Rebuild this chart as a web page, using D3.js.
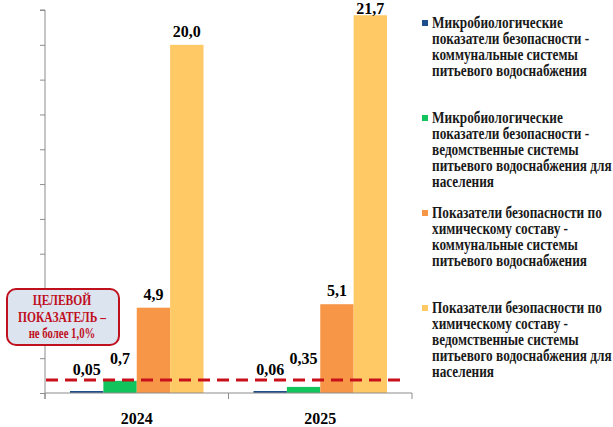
<!DOCTYPE html>
<html><head><meta charset="utf-8">
<script src="https://cdn.jsdelivr.net/npm/d3@7"></script>
<style>
html,body{margin:0;padding:0;background:#fff;}
svg{display:block;}
svg text{font-family:"Liberation Serif","Times New Roman","DejaVu Serif",serif;font-weight:bold;}
</style></head>
<body>
<svg id="chart" width="613" height="427"></svg>
<script>
const years = ["2024", "2025"];
const seriesKeys = ["microCommunal", "microDepartmental", "chemCommunal", "chemDepartmental"];
const values2024 = [0.05, 0.7, 4.9, 20.0];
const values2025 = [0.06, 0.35, 5.1, 21.7];
const labels2024 = ["0,05", "0,7", "4,9", "20,0"];
const labels2025 = ["0,06", "0,35", "5,1", "21,7"];
const seriesColors = ["#1F4E8C", "#12C45C", "#F79646", "#FFC966"];
const seriesNameLines = [
  ["Микробиологические", "показатели безопасности -", "коммунальные системы", "питьевого водоснабжения"],
  ["Микробиологические", "показатели безопасности -", "ведомственные системы", "питьевого водоснабжения для", "населения"],
  ["Показатели безопасности по", "химическому составу -", "коммунальные системы", "питьевого водоснабжения"],
  ["Показатели безопасности по", "химическому составу -", "ведомственные системы", "питьевого водоснабжения для", "населения"]
];
const yTicks = [0, 2, 4, 6, 8, 10, 12, 14, 16, 18, 20, 22];
const targetLineLevel = 0.75;
const calloutLines = ["ЦЕЛЕВОЙ", "ПОКАЗАТЕЛЬ –", "не более 1,0%"];

const valuesByYear = [values2024, values2025];
const labelsByYear = [labels2024, labels2025];

const svg = d3.select("#chart");

const x0 = d3.scaleBand().domain(years).range([45, 412]).paddingInner(0).paddingOuter(0);
const x1 = d3.scaleBand().domain(seriesKeys).range([25, x0.bandwidth() - 25]).padding(0);
const y = d3.scaleLinear().domain([0, 22]).range([393, 10]);

// bars
const groups = svg.append("g").selectAll("g").data(years).join("g")
  .attr("transform", d => `translate(${x0(d)},0)`);
groups.selectAll("rect")
  .data((d, i) => valuesByYear[i].map((v, j) => ({key: seriesKeys[j], v, j})))
  .join("rect")
  .attr("x", d => x1(d.key))
  .attr("width", x1.bandwidth())
  .attr("y", d => Math.min(y(d.v), y(0) - 2))
  .attr("height", d => Math.max(y(0) - y(d.v), 2))
  .attr("fill", d => seriesColors[d.j]);

// axes
const axisColor = "#8c8c8c";
const yAxis = svg.append("g").attr("transform", "translate(45,0)")
  .call(d3.axisLeft(y).tickValues(yTicks).tickSize(5).tickFormat(""));
yAxis.select(".domain").attr("d", `M-5,${y(22)}H0V${y(0) + 6}`);
yAxis.selectAll("path,line").attr("stroke", axisColor);

const xAxis = svg.append("g").attr("transform", `translate(0,${y(0)})`)
  .call(d3.axisBottom(x0).tickSize(6).tickFormat("").tickSizeOuter(0));
xAxis.select(".domain").attr("d", `M45,0H412V6`);
xAxis.selectAll(".tick").attr("transform", d => `translate(${x0(d)},0)`);
xAxis.selectAll("path,line").attr("stroke", axisColor);

// year labels
svg.append("g").selectAll("text").data(years).join("text")
  .attr("x", d => x0(d) + x0.bandwidth() / 2)
  .attr("y", 424)
  .attr("text-anchor", "middle")
  .attr("font-size", 16)
  .attr("fill", "#000")
  .text(d => d);

// target dashed line
const lineY = y(targetLineLevel);
svg.append("line")
  .attr("x1", 46).attr("x2", 400).attr("y1", lineY).attr("y2", lineY)
  .attr("stroke", "#C8101A").attr("stroke-width", 3)
  .attr("stroke-dasharray", "12,7");

// data labels
groups.selectAll("text")
  .data((d, i) => valuesByYear[i].map((v, j) => ({key: seriesKeys[j], v, j, label: labelsByYear[i][j]})))
  .join("text")
  .attr("x", d => x1(d.key) + x1.bandwidth() / 2)
  .attr("y", d => Math.max(14, Math.min(y(d.v) - 8, lineY - 5 - d.j * 11)))
  .attr("text-anchor", "middle")
  .attr("font-size", 16)
  .attr("fill", "#000")
  .text(d => d.label);

// callout box
const callout = svg.append("g");
callout.append("rect")
  .attr("x", 7).attr("y", 289).attr("width", 112).attr("height", 56)
  .attr("rx", 9).attr("ry", 9)
  .attr("fill", "#DCE4F0").attr("stroke", "#C0101E").attr("stroke-width", 2);
const sxC = 0.77;
callout.selectAll("text").data(calloutLines).join("text")
  .attr("transform", (d, i) => `translate(62,${305 + i * 16.5}) scale(${sxC},1)`)
  .attr("text-anchor", "middle")
  .attr("font-size", (d, i) => i === 2 ? 14 : 15)
  .attr("fill", "#C0101E")
  .text(d => d);

// legend
const sxL = 0.83;
const legend = svg.append("g");
const entries = legend.selectAll("g").data(seriesNameLines).join("g")
  .attr("transform", (d, i) => `translate(0,${23 + i * 95})`);
entries.append("rect")
  .attr("x", 422).attr("y", -3).attr("width", 6).attr("height", 6)
  .attr("fill", (d, i) => seriesColors[i]);
entries.each(function(lines) {
  d3.select(this).selectAll("text").data(lines).join("text")
    .attr("transform", (d, k) => `translate(432,${k * 16 + 5}) scale(${sxL},1)`)
    .attr("font-size", 16)
    .attr("fill", "#1a1a1a")
    .text(d => d);
});
</script>
</body></html>
